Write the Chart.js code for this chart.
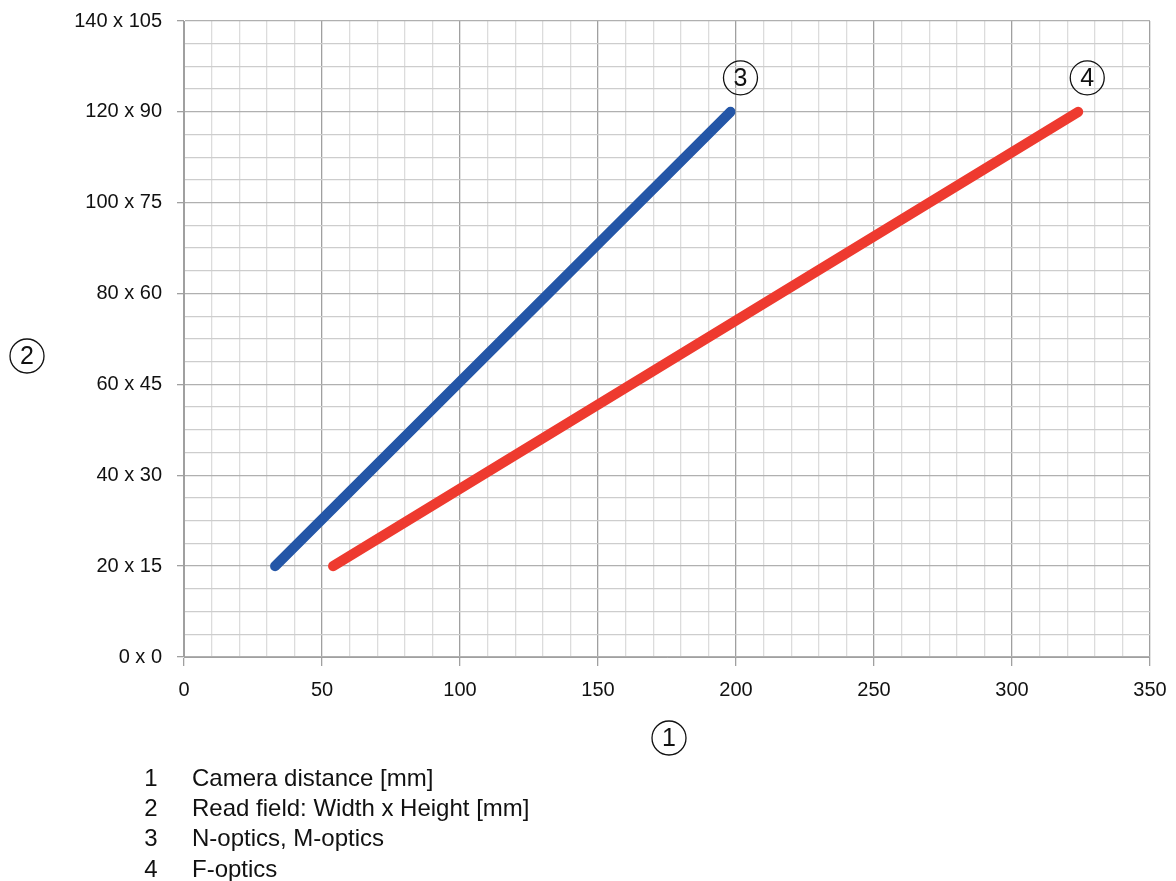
<!DOCTYPE html>
<html lang="en">
<head>
    <meta charset="UTF-8">
    <title>Read field vs camera distance</title>
    <script src="https://cdn.jsdelivr.net/npm/chart.js@4.4.1/dist/chart.umd.min.js"></script>
    <style>
        html, body { margin: 0; padding: 0; background: #fff; }
        .wrap { position: relative; width: 1176px; height: 881px; }
    </style>
</head>
<body>
    <div class="wrap">
        <canvas id="fieldChart"></canvas>
    </div>

    <script>
        // data
        const nOpticsDistance = [33, 198];
        const nOpticsField = [20, 120];
        const fOpticsDistance = [54, 324];
        const fOpticsField = [20, 120];

        const xMajor = [0, 50, 100, 150, 200, 250, 300, 350];
        const yMajor = [0, 20, 40, 60, 80, 100, 120, 140];
        const yTickLabels = ['0 x 0', '20 x 15', '40 x 30', '60 x 45', '80 x 60', '100 x 75', '120 x 90', '140 x 105'];

        const legendKeys = ['1', '2', '3', '4'];
        const legendTexts = ['Camera distance [mm]', 'Read field: Width x Height [mm]', 'N-optics, M-optics', 'F-optics'];

        const FONT = '"Liberation Sans", Arial, sans-serif';

        function toPoints(xs, ys) {
            return xs.map((x, i) => ({ x: x, y: ys[i] }));
        }

        function circled(ctx, label, cx, cy) {
            ctx.save();
            ctx.beginPath();
            ctx.arc(cx, cy, 17, 0, Math.PI * 2);
            ctx.lineWidth = 1.3;
            ctx.strokeStyle = '#111';
            ctx.stroke();
            ctx.fillStyle = '#111';
            ctx.font = '25px ' + FONT;
            ctx.textAlign = 'center';
            ctx.textBaseline = 'middle';
            ctx.fillText(label, cx, cy + 1);
            ctx.restore();
        }

        // circled callouts and key text under the plot
        const notes = {
            id: 'notes',
            afterDraw(chart) {
                const ctx = chart.ctx;
                const xs = chart.scales.x;
                const ys = chart.scales.y;
                const area = chart.chartArea;

                circled(ctx, '1', (area.left + area.right) / 2 + 2, 738);
                circled(ctx, '2', 27, (area.top + area.bottom) / 2 + 17);
                circled(ctx, '3', xs.getPixelForValue(nOpticsDistance[1]) + 10, ys.getPixelForValue(nOpticsField[1]) - 34);
                circled(ctx, '4', xs.getPixelForValue(fOpticsDistance[1]) + 9, ys.getPixelForValue(fOpticsField[1]) - 34);

                ctx.save();
                ctx.fillStyle = '#111';
                ctx.font = '24px ' + FONT;
                ctx.textBaseline = 'middle';
                legendKeys.forEach((k, i) => {
                    const y = 779 + i * 30.3;
                    ctx.textAlign = 'center';
                    ctx.fillText(k, 151, y);
                    ctx.textAlign = 'left';
                    ctx.fillText(legendTexts[i], 192, y);
                });
                ctx.restore();
            }
        };

        const ctx = document.getElementById('fieldChart').getContext('2d');

        new Chart(ctx, {
            type: 'scatter',
            data: {
                datasets: [
                    {
                        label: 'N-optics, M-optics',
                        data: toPoints(nOpticsDistance, nOpticsField),
                        showLine: true,
                        borderColor: '#2456a7',
                        borderWidth: 10,
                        borderCapStyle: 'round',
                        pointRadius: 0
                    },
                    {
                        label: 'F-optics',
                        data: toPoints(fOpticsDistance, fOpticsField),
                        showLine: true,
                        borderColor: '#ee3a2f',
                        borderWidth: 10,
                        borderCapStyle: 'round',
                        pointRadius: 0
                    }
                ]
            },
            options: {
                responsive: true,
                maintainAspectRatio: false,
                animation: false,
                layout: { padding: { top: 21, right: 26, left: 0, bottom: 0 } },
                plugins: {
                    legend: { display: false },
                    tooltip: { enabled: false }
                },
                scales: {
                    x: {
                        type: 'linear',
                        min: 0,
                        max: 350,
                        afterFit(scale) {
                            scale.height = 224;
                            scale.paddingLeft = 0;
                            scale.paddingRight = 0;
                        },
                        border: { color: '#a0a0a0' },
                        grid: {
                            color: c => xMajor.includes(c.tick.value) ? '#a0a0a0' : '#dcdcdc',
                            lineWidth: 1.3,
                            tickLength: 9,
                            tickColor: c => xMajor.includes(c.tick.value) ? '#a0a0a0' : 'rgba(0,0,0,0)'
                        },
                        ticks: {
                            stepSize: 10,
                            autoSkip: false,
                            maxRotation: 0,
                            padding: 12,
                            color: '#111',
                            font: { family: FONT, size: 20 },
                            callback: v => xMajor.includes(v) ? String(v) : ''
                        }
                    },
                    y: {
                        type: 'linear',
                        min: 0,
                        max: 140,
                        afterFit(scale) {
                            scale.width = 184;
                            scale.paddingTop = 0;
                            scale.paddingBottom = 0;
                        },
                        border: { color: '#a0a0a0' },
                        grid: {
                            color: c => yMajor.includes(c.tick.value) ? '#b0b0b0' : '#cdcdcd',
                            lineWidth: 1.3,
                            tickLength: 7,
                            tickColor: c => yMajor.includes(c.tick.value) ? '#a0a0a0' : 'rgba(0,0,0,0)'
                        },
                        ticks: {
                            stepSize: 5,
                            autoSkip: false,
                            padding: 15,
                            color: '#111',
                            font: { family: FONT, size: 20 },
                            callback: v => {
                                const i = yMajor.indexOf(v);
                                return i >= 0 ? yTickLabels[i] : '';
                            }
                        }
                    }
                }
            },
            plugins: [notes]
        });
    </script>
</body>
</html>
